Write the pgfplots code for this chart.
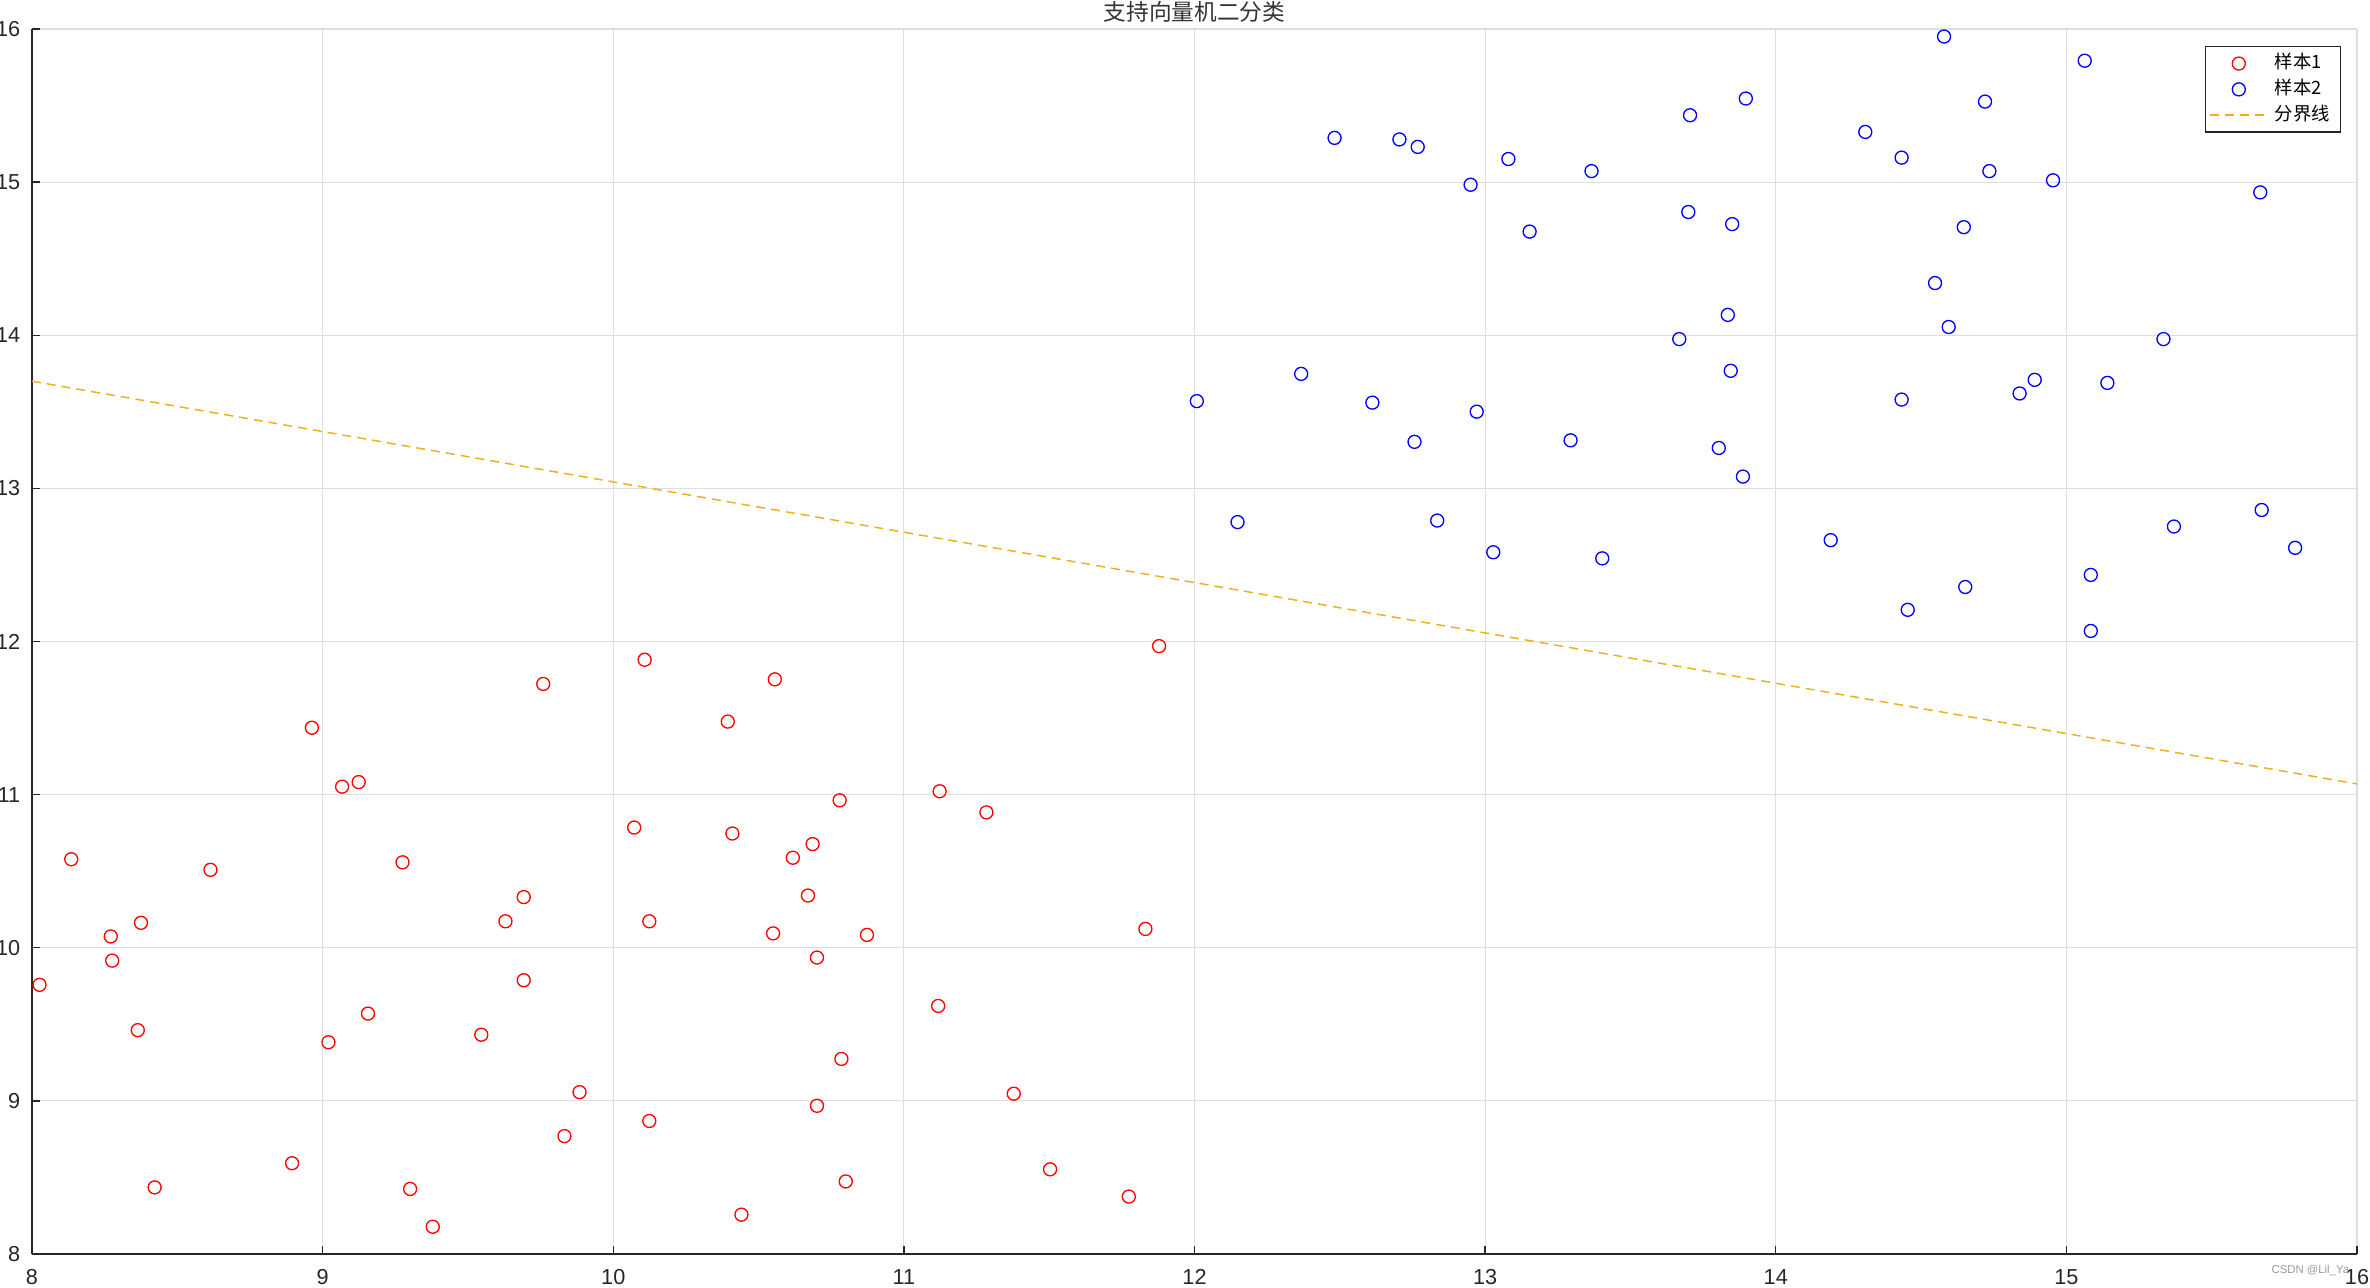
\documentclass[border=0pt]{standalone}
\usepackage{fontspec}
\setmainfont{Liberation Sans}
\newfontfamily\cjk{Noto Sans CJK SC}
\usepackage{pgfplots}
\pgfplotsset{compat=1.18}
\definecolor{mlorange}{rgb}{0.929,0.694,0.125}
\definecolor{axgray}{rgb}{0.15,0.15,0.15}
\definecolor{gridgray}{rgb}{0.87,0.87,0.87}

\pgfplotstableread{
x y
8.026 9.758
8.135 10.578
8.271 10.074
8.276 9.916
8.375 10.163
8.364 9.462
8.422 8.435
8.614 10.509
8.895 8.593
8.963 11.437
9.020 9.383
9.067 11.052
9.124 11.082
9.156 9.570
9.275 10.558
9.301 8.425
9.379 8.178
9.546 9.432
9.629 10.173
9.692 10.331
9.692 9.788
9.759 11.723
9.832 8.770
9.884 9.057
10.072 10.785
10.108 11.881
10.124 10.173
10.124 8.869
10.394 11.477
10.410 10.746
10.441 8.257
10.550 10.094
10.556 11.753
10.618 10.588
10.670 10.341
10.686 10.677
10.701 9.936
10.701 8.968
10.779 10.963
10.785 9.274
10.800 8.474
10.873 10.084
11.118 9.620
11.123 11.022
11.284 10.884
11.378 9.047
11.503 8.553
11.774 8.375
11.831 10.123
11.878 11.970
}\redtab

\pgfplotstableread{
x y
12.008 13.570
12.148 12.780
12.367 13.748
12.482 15.289
12.612 13.560
12.705 15.279
12.757 13.304
12.768 15.230
12.835 12.790
12.950 14.983
12.971 13.501
13.028 12.583
13.080 15.151
13.153 14.677
13.294 13.314
13.366 15.072
13.403 12.543
13.668 13.975
13.699 14.805
13.705 15.437
13.804 13.264
13.835 14.133
13.845 13.768
13.850 14.726
13.887 13.077
13.897 15.546
14.189 12.662
14.308 15.328
14.433 15.160
14.433 13.580
14.454 12.207
14.548 14.341
14.579 15.951
14.595 14.054
14.647 14.706
14.652 12.356
14.720 15.526
14.735 15.072
14.839 13.620
14.891 13.709
14.954 15.012
15.063 15.793
15.084 12.435
15.084 12.069
15.141 13.689
15.334 13.975
15.370 12.751
15.667 14.933
15.672 12.859
15.787 12.612
}\bluetab

\begin{document}
\begin{tikzpicture}
\useasboundingbox (-9.6pt,-9.9pt) rectangle (701.4pt,376.2pt);
\begin{axis}[
  scale only axis, width=697.5pt, height=367.5pt,
  at={(0,0)}, anchor=south west,
  xmin=8, xmax=16, ymin=8, ymax=16,
  xtick={8,...,16}, ytick={8,...,16},
  axis x line*=bottom, axis y line*=left,
  grid=major, major grid style={gridgray, line width=0.35pt},
  axis line style={axgray, line width=0.4pt},
  tick style={axgray, line width=0.4pt},
  tick align=inside, major tick length=2.4pt,
  ticklabel style={font=\fontsize{6.5}{7}\selectfont, text=axgray},
  xticklabel style={yshift=-1.0pt},
  /pgf/number format/assume math mode=true,
  legend style={at={(1,1)}, anchor=north east, xshift=-4.8pt, yshift=-5.1pt,
    font=\fontsize{5.5}{6.5}\selectfont\cjk, draw=axgray, line width=0.4pt,
    inner xsep=1.2pt, inner ysep=0pt, row sep=-2.4pt, cells={anchor=west}},
  legend cell align=left,
]
\addplot[only marks, mark=o, mark size=1.95pt, draw=red, mark options={line width=0.4pt}] table[x=x,y=y] {\redtab};
\addlegendentry{样本1}
\addplot[only marks, mark=o, mark size=1.95pt, draw=blue, mark options={line width=0.4pt}] table[x=x,y=y] {\bluetab};
\addlegendentry{样本2}
\addplot[mlorange, line width=0.45pt, dash pattern=on 2.7pt off 1.8pt] coordinates {(8,13.70) (16,11.07)};
\addlegendentry{分界线}
\end{axis}
\node[font=\fontsize{6.8}{8}\selectfont\cjk, text=black!80, anchor=base, inner sep=0pt] at (348.75pt,370.1pt) {支持向量机二分类};
\node[font=\fontsize{3.4}{4}\selectfont, text=black!40, inner sep=0pt] at (683.5pt,-5.1pt) {CSDN @Lil\_Ya};
\end{tikzpicture}
\end{document}
